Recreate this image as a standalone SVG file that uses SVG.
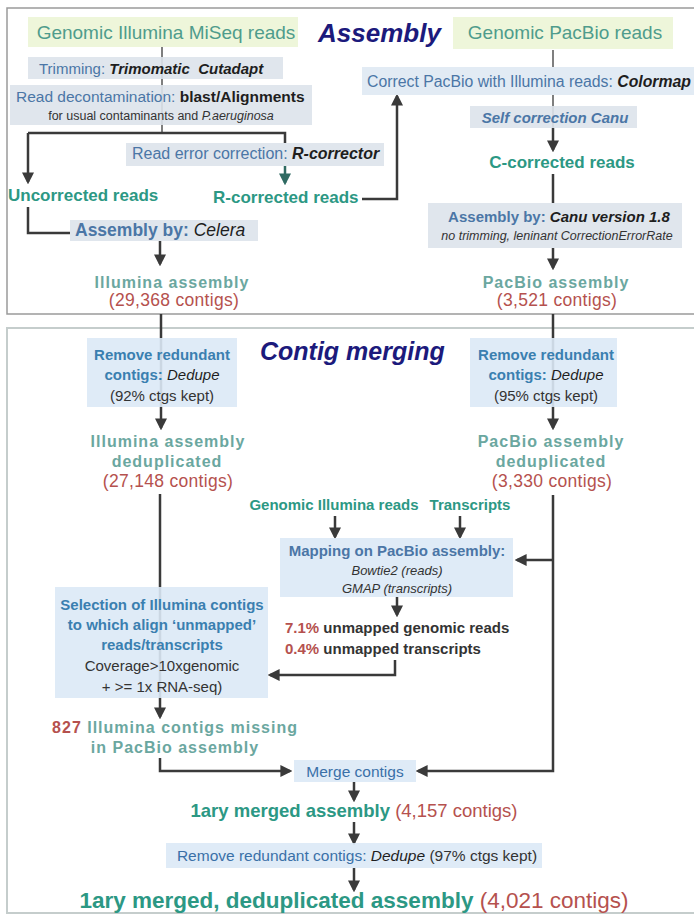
<svg xmlns="http://www.w3.org/2000/svg" width="694" height="915" viewBox="0 0 694 915">
<defs>
<marker id="ah" viewBox="0 0 10 10" refX="8" refY="5" markerWidth="12" markerHeight="12" markerUnits="userSpaceOnUse" orient="auto"><path d="M0,0 L10,5 L0,10 z" fill="#3a3a3a"/></marker>
<marker id="aht" viewBox="0 0 10 10" refX="8" refY="5" markerWidth="12" markerHeight="12" markerUnits="userSpaceOnUse" orient="auto"><path d="M0,0 L10,5 L0,10 z" fill="#2f6a62"/></marker>
</defs>
<style>
text{font-family:"Liberation Sans",Arial,sans-serif}
.b{font-weight:bold}
.i{font-style:italic}
.teal{fill:#4f9c8c}
.teal2{fill:#2c9884}
.gt{fill:#6ba7a0;font-weight:bold;font-size:16px;letter-spacing:1px}
.blue{fill:#4b76a6}
.blue2{fill:#3a7fb0}
.red{fill:#b5514e}
.dk{fill:#1e1e1e}
.gr{fill:#333}
.cnt{fill:#b5514e;font-size:17.5px;letter-spacing:0.3px}
.title{fill:#1c1a7c;font-weight:bold;font-style:italic}
.c{stroke:#3a3a3a;stroke-width:2.5;fill:none}
.cl{stroke:#555;stroke-width:1.5;fill:none}
.bx{fill:#dde3eb;fill-opacity:0.9}
.bx2{fill:#dbe9f6;fill-opacity:0.9}
.gy{fill:#eef6da}
.frame{fill:none;stroke:#9a9a9a;stroke-width:1.5}
.frame2{fill:none;stroke:#c5cdcc;stroke-width:2}
</style>
<rect width="694" height="915" fill="#ffffff"/>
<rect class="frame" x="7" y="8" width="700" height="306"/>
<rect class="frame2" x="7" y="328" width="700" height="585"/>

<g id="connectors">
<path class="cl" d="M162,46 V133"/>
<path class="c" d="M28,133 H285 V143"/>
<path class="c" d="M28,133 V182" marker-end="url(#ah)"/>
<path d="M285,166 V183" stroke="#2f6a62" stroke-width="2.5" fill="none" marker-end="url(#aht)"/>
<path class="c" d="M362,199 H397 V96" marker-end="url(#ah)"/>
<path class="c" d="M28,207 V233 H70"/>
<path class="c" d="M160,241 V264" marker-end="url(#ah)"/>
<path class="cl" d="M553,50 V128"/>
<path class="c" d="M553,128 V150" marker-end="url(#ah)"/>
<path class="c" d="M553,174 V203"/>
<path class="c" d="M553,248 V268" marker-end="url(#ah)"/>
<path class="c" d="M161,314 V428" marker-end="url(#ah)"/>
<path class="c" d="M553,314 V428" marker-end="url(#ah)"/>
<path class="c" d="M160,494 V717" marker-end="url(#ah)"/>
<path class="c" d="M553,495 V771 H418" marker-end="url(#ah)"/>
<path class="c" d="M553,560 H517" marker-end="url(#ah)"/>
<path class="c" d="M335,516 V537" marker-end="url(#ah)"/>
<path class="c" d="M460,516 V537" marker-end="url(#ah)"/>
<path class="c" d="M397,597 V615" marker-end="url(#ah)"/>
<path class="c" d="M395,660 V675 H270" marker-end="url(#ah)"/>
<path class="c" d="M160,758 V771 H290" marker-end="url(#ah)"/>
<path class="c" d="M354,782 V800" marker-end="url(#ah)"/>
<path class="c" d="M354,822 V843" marker-end="url(#ah)"/>
<path class="c" d="M354,868 V890" marker-end="url(#ah)"/>
</g>

<g id="title-assembly"><text x="318" y="42" class="title" font-size="26">Assembly</text></g>
<g id="title-contig"><text x="260" y="360" class="title" font-size="25">Contig merging</text></g>

<g id="illumina-reads">
<rect class="gy" x="28" y="17" width="270" height="30"/>
<text x="166" y="39" text-anchor="middle" font-size="19" class="teal">Genomic Illumina MiSeq reads</text>
</g>
<g id="pacbio-reads">
<rect class="gy" x="453" y="17" width="220" height="32"/>
<text x="565" y="39" text-anchor="middle" font-size="19" class="teal">Genomic PacBio reads</text>
</g>
<g id="trimming">
<rect class="bx" x="28" y="57" width="255" height="22"/>
<text x="39" y="74" font-size="15"><tspan class="blue">Trimming: </tspan><tspan class="b i dk">Trimomatic&#160; Cutadapt</tspan></text>
</g>
<g id="decontamination">
<rect class="bx" x="10" y="85" width="302" height="40"/>
<text x="16" y="102" font-size="15.5"><tspan class="blue">Read decontamination: </tspan><tspan class="b dk">blast/Alignments</tspan></text>
<text x="161" y="120" text-anchor="middle" font-size="12.5" class="gr">for usual contaminants and <tspan class="i">P.aeruginosa</tspan></text>
</g>
<g id="error-correction">
<rect class="bx" x="126" y="143" width="258" height="23"/>
<text x="132" y="159" font-size="16"><tspan class="blue">Read error correction: </tspan><tspan class="b i dk">R-corrector</tspan></text>
</g>
<g id="uncorrected"><text x="8" y="201" font-size="17" class="b teal2">Uncorrected reads</text></g>
<g id="rcorrected"><text x="213" y="203" font-size="17" class="b teal2">R-corrected reads</text></g>
<g id="celera">
<rect class="bx" x="70" y="220" width="188" height="21"/>
<text x="75" y="236" font-size="17.5"><tspan class="b blue">Assembly by: </tspan><tspan class="i dk">Celera</tspan></text>
</g>
<g id="illumina-assembly">
<text x="172" y="288" text-anchor="middle" class="gt">Illumina assembly</text>
<text x="174" y="306" text-anchor="middle" class="cnt">(29,368 contigs)</text>
</g>
<g id="colormap">
<rect fill="#e2ebf4" x="362" y="67" width="332" height="28"/>
<text x="367" y="87" font-size="16" textLength="324" lengthAdjust="spacingAndGlyphs"><tspan class="blue">Correct PacBio with Illumina reads: </tspan><tspan class="b i dk">Colormap</tspan></text>
</g>
<g id="self-correction">
<rect class="bx" x="470" y="106" width="167" height="22"/>
<text x="555" y="123" text-anchor="middle" font-size="15" class="b i blue">Self correction Canu</text>
</g>
<g id="ccorrected"><text x="562" y="168" text-anchor="middle" font-size="17" class="b teal2">C-corrected reads</text></g>
<g id="canu">
<rect class="bx" x="428" y="203" width="254" height="45"/>
<text x="559" y="222" text-anchor="middle" font-size="15"><tspan class="b blue">Assembly by: </tspan><tspan class="b i dk">Canu version 1.8</tspan></text>
<text x="557" y="240" text-anchor="middle" font-size="12.5" class="i gr">no trimming, leninant CorrectionErrorRate</text>
</g>
<g id="pacbio-assembly">
<text x="556" y="288" text-anchor="middle" class="gt">PacBio assembly</text>
<text x="557" y="306" text-anchor="middle" class="cnt">(3,521 contigs)</text>
</g>

<g id="dedupe-illumina">
<rect class="bx2" x="87" y="338" width="150" height="69"/>
<text x="162" y="360" text-anchor="middle" font-size="15" class="b blue2">Remove redundant</text>
<text x="162" y="380" text-anchor="middle" font-size="15"><tspan class="b blue2">contigs: </tspan><tspan class="i dk">Dedupe</tspan></text>
<text x="162" y="401" text-anchor="middle" font-size="15" class="gr">(92% ctgs kept)</text>
</g>
<g id="illumina-dedup">
<text x="168" y="447" text-anchor="middle" class="gt">Illumina assembly</text>
<text x="167" y="467" text-anchor="middle" class="gt">deduplicated</text>
<text x="168" y="487" text-anchor="middle" class="cnt">(27,148 contigs)</text>
</g>
<g id="dedupe-pacbio">
<rect class="bx2" x="470" y="338" width="147" height="69"/>
<text x="546" y="360" text-anchor="middle" font-size="15" class="b blue2">Remove redundant</text>
<text x="546" y="380" text-anchor="middle" font-size="15"><tspan class="b blue2">contigs: </tspan><tspan class="i dk">Dedupe</tspan></text>
<text x="546" y="401" text-anchor="middle" font-size="15" class="gr">(95% ctgs kept)</text>
</g>
<g id="pacbio-dedup">
<text x="551" y="447" text-anchor="middle" class="gt">PacBio assembly</text>
<text x="551" y="467" text-anchor="middle" class="gt">deduplicated</text>
<text x="552" y="487" text-anchor="middle" class="cnt">(3,330 contigs)</text>
</g>
<g id="genomic-illumina-reads"><text x="334" y="510" text-anchor="middle" font-size="15" class="b teal2">Genomic Illumina reads</text></g>
<g id="transcripts"><text x="470" y="510" text-anchor="middle" font-size="15" class="b teal2">Transcripts</text></g>
<g id="mapping">
<rect class="bx2" x="280" y="538" width="233" height="59"/>
<text x="397" y="556" text-anchor="middle" font-size="15" class="b blue">Mapping on PacBio assembly:</text>
<text x="397" y="575" text-anchor="middle" font-size="13" class="i gr">Bowtie2 (reads)</text>
<text x="397" y="593" text-anchor="middle" font-size="13" class="i gr">GMAP (transcripts)</text>
</g>
<g id="unmapped">
<text x="285" y="633" font-size="15" class="b"><tspan class="red">7.1% </tspan><tspan class="gr">unmapped genomic reads</tspan></text>
<text x="285" y="654" font-size="15" class="b"><tspan class="red">0.4% </tspan><tspan class="gr">unmapped transcripts</tspan></text>
</g>
<g id="selection">
<rect class="bx2" x="55" y="587" width="213" height="111"/>
<text x="162" y="610" text-anchor="middle" font-size="15" class="b blue2">Selection of Illumina contigs</text>
<text x="162" y="630" text-anchor="middle" font-size="15" class="b blue2">to which align ‘unmapped’</text>
<text x="162" y="650" text-anchor="middle" font-size="15" class="b blue2">reads/transcripts</text>
<text x="162" y="671" text-anchor="middle" font-size="15" class="gr">Coverage&gt;10xgenomic</text>
<text x="162" y="692" text-anchor="middle" font-size="15" class="gr">+ &gt;= 1x RNA-seq)</text>
</g>
<g id="missing">
<text x="175" y="733" text-anchor="middle" class="gt"><tspan class="red">827</tspan> Illumina contigs missing</text>
<text x="175" y="753" text-anchor="middle" class="gt">in PacBio assembly</text>
</g>
<g id="merge">
<rect class="bx2" x="294" y="760" width="122" height="22"/>
<text x="355" y="777" text-anchor="middle" font-size="15.5" fill="#3a70a8">Merge contigs</text>
</g>
<g id="merged-assembly">
<text x="354" y="817" text-anchor="middle" font-size="18.5"><tspan class="b teal2">1ary merged assembly </tspan><tspan class="red">(4,157 contigs)</tspan></text>
</g>
<g id="dedupe-final">
<rect class="bx2" x="166" y="843" width="376" height="25"/>
<text x="357" y="861" text-anchor="middle" font-size="15.5"><tspan fill="#3a70a8">Remove redundant contigs: </tspan><tspan class="i dk">Dedupe</tspan><tspan class="gr"> (97% ctgs kept)</tspan></text>
</g>
<g id="final-assembly">
<text x="354" y="908" text-anchor="middle" font-size="22.5"><tspan class="b teal2">1ary merged, deduplicated assembly </tspan><tspan class="red">(4,021 contigs)</tspan></text>
</g>
</svg>
